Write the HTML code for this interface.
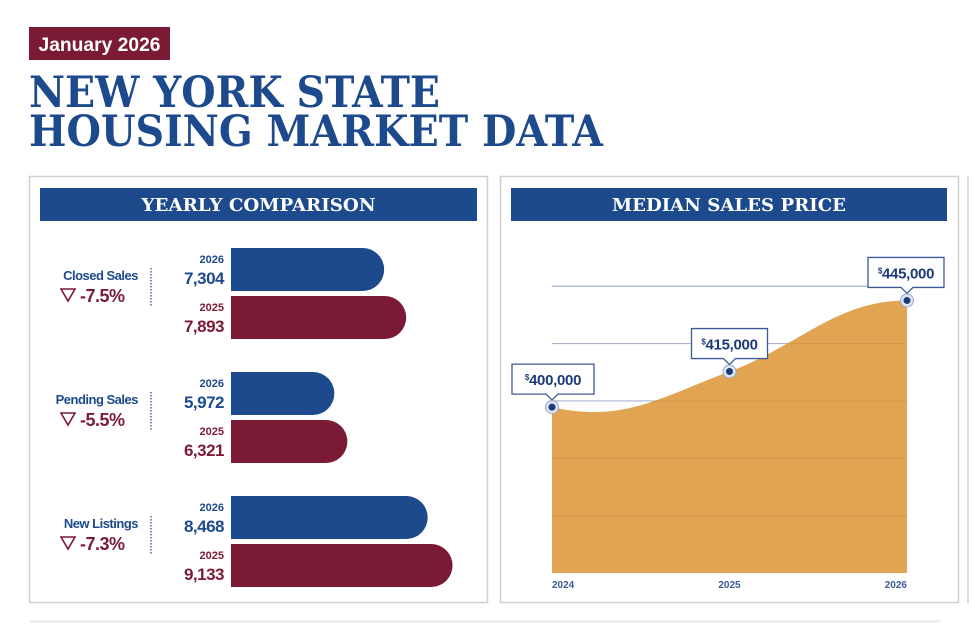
<!DOCTYPE html>
<html><head><meta charset="utf-8"><style>
html,body{margin:0;padding:0;background:#fff;width:972px;height:626px;overflow:hidden}
svg{display:block}
.serif{font-family:"DejaVu Serif","Liberation Serif",serif;font-weight:bold}
.sans{font-family:"Liberation Sans",sans-serif;font-weight:bold}
</style></head><body>
<svg id="root" width="972" height="626" viewBox="0 0 972 626" xmlns="http://www.w3.org/2000/svg">
  <rect x="29" y="27" width="141" height="33" fill="#7b1a35"/>
  <text x="99.5" y="51" text-anchor="middle" class="sans" font-size="19" fill="#fff" font-weight="normal" textLength="122" lengthAdjust="spacingAndGlyphs">January 2026</text>
  <text x="29" y="107" class="serif" font-size="43" fill="#1d4a8c" textLength="411" lengthAdjust="spacingAndGlyphs">NEW YORK STATE</text>
  <text x="29" y="146" class="serif" font-size="43" fill="#1d4a8c" textLength="574" lengthAdjust="spacingAndGlyphs">HOUSING MARKET DATA</text>

  <rect x="29.5" y="176.5" width="458" height="426" fill="#fff" stroke="#cfcfcf" stroke-width="1.5"/>
  <rect x="40" y="188" width="437" height="33" fill="#1d4a8c"/>
  <text x="258.5" y="211" text-anchor="middle" class="serif" font-size="18" fill="#fff" textLength="234" lengthAdjust="spacingAndGlyphs">YEARLY COMPARISON</text>
  <g id="bars"></g>

  <rect x="500.5" y="176.5" width="458" height="426" fill="#fff" stroke="#cfcfcf" stroke-width="1.5"/>
  <rect x="511" y="188" width="436" height="33" fill="#1d4a8c"/>
  <text x="729" y="211" text-anchor="middle" class="serif" font-size="18" fill="#fff" textLength="234" lengthAdjust="spacingAndGlyphs">MEDIAN SALES PRICE</text>
  <defs><clipPath id="areaClip"><path id="clipPath"/></clipPath></defs>
  <g id="area"></g>

  <line x1="968" y1="176" x2="968" y2="603" stroke="#cfcfcf" stroke-width="1.5"/>
  <rect x="30" y="620" width="910" height="3" fill="#eeeeee"/>
</svg>
<script>
const NS="http://www.w3.org/2000/svg";
// ---- bar data ----
const categories=["Closed Sales","Pending Sales","New Listings"];
const changes=["-7.5%","-5.5%","-7.3%"];
const values2026=[7304,5972,8468];
const values2025=[7893,6321,9133];
const years=["2026","2025"];
// ---- area data ----
const priceYears=["2024","2025","2026"];
const prices=[400000,415000,445000];
const priceLabels=["400,000","415,000","445,000"];

function mk(tag,attrs,parent){const e=document.createElementNS(NS,tag);for(const k in attrs)e.setAttribute(k,attrs[k]);parent.appendChild(e);return e;}

const bx0=231, bMin=3209, bK=0.0374;
const xb=v=>(v-bMin)*bK;
const barsG=document.getElementById('bars');
const groupTop=248, groupStep=124, bh=43;
categories.forEach((c,i)=>{
  const top=groupTop+i*groupStep;
  const colors=["#1d4a8c","#7b1a35"];
  [values2026[i],values2025[i]].forEach((v,j)=>{
    const y=top+j*48, w=xb(v), r=bh/2;
    const p=mk('path',{d:`M${bx0},${y}H${bx0+w-r}A${r},${r} 0 0 1 ${bx0+w-r},${y+bh}H${bx0}Z`,fill:colors[j]},barsG);
    
    
    const yt=mk('text',{x:224,y:y+15,'text-anchor':'end','font-family':'Liberation Sans, sans-serif','font-weight':'bold','font-size':11,fill:colors[j]},barsG);
    yt.textContent=years[j];
    
    
    const vt=mk('text',{x:224,y:y+36,'text-anchor':'end','font-family':'Liberation Sans, sans-serif','font-weight':'bold','font-size':17,'letter-spacing':'-0.5',fill:colors[j]},barsG);
    vt.textContent=v.toLocaleString('en-US');
    
    
  });
  const ct=mk('text',{x:138,y:top+32,'text-anchor':'end','font-family':'Liberation Sans, sans-serif','font-weight':'bold','font-size':13,'letter-spacing':'-0.5',fill:'#1d4a8c'},barsG);
  ct.textContent=c;
  
  
  const tri=mk('path',{d:`M61,${top+41}L75,${top+41}L68,${top+53}Z`,fill:'none',stroke:'#7b1a35','stroke-width':1.6},barsG);
  
  
  const pt=mk('text',{x:80,y:top+54,'font-family':'Liberation Sans, sans-serif','font-weight':'bold','font-size':18,'letter-spacing':'-0.5',fill:'#7b1a35'},barsG);
  pt.textContent=changes[i];
  
  
  const dl=mk('line',{x1:151,y1:top+20,x2:151,y2:top+58,stroke:'#1d4a8c','stroke-width':1.2,'stroke-dasharray':'1.5 1.5'},barsG);
  
  
});

const ag=document.getElementById('area');
const ax0=552, ax1=907, base=573, vMin=330000, ky=0.00237;
const xa=i=>ax0+i*(ax1-ax0)/(priceYears.length-1);
const ya=v=>base-(v-vMin)*ky;
const P=prices.map((v,i)=>[xa(i),ya(v)]);
let d=`M${P[0][0]},${P[0][1]}`;
for(let i=0;i<P.length-1;i++){
  const dx=P[i+1][0]-P[i][0];
  const sa=i===0?0.22:(P[i+1][1]-P[i-1][1])/(P[i+1][0]-P[i-1][0])*1.25;
  const sb=i+1===P.length-1?0:(P[i+2][1]-P[i][1])/(P[i+2][0]-P[i][0])*1.25;
  d+=` C${P[i][0]+dx*0.4},${P[i][1]+sa*dx*0.4} ${P[i+1][0]-dx*0.4},${P[i+1][1]-sb*dx*0.4} ${P[i+1][0]},${P[i+1][1]}`;
}
const full=d+` L${ax1},${base} L${ax0},${base} Z`;
document.getElementById('clipPath').setAttribute('d',full);
const gridVals=[354200,378400,402600,426800,451000];
gridVals.forEach(g=>{
  const l=mk('line',{x1:ax0,x2:ax1,y1:ya(g),y2:ya(g),stroke:'#aab4d0','stroke-width':1.2},ag);
  
  
});
const area=mk('path',{d:full,fill:'#e1a452'},ag);


const og=mk('g',{'clip-path':'url(#areaClip)'},ag);
gridVals.forEach(g=>{
  const l=mk('line',{x1:ax0,x2:ax1,y1:ya(g),y2:ya(g),stroke:'#cf8f42','stroke-width':1,'stroke-opacity':0.6},og);
  
  
});
priceYears.forEach((y,i)=>{
  const t=mk('text',{x:xa(i),y:588,'text-anchor':i===0?'start':(i===2?'end':'middle'),'font-family':'Liberation Sans, sans-serif','font-weight':'bold','font-size':10,fill:'#3d5a96'},ag);
  t.textContent=y;
  
  
});
P.forEach((p,i)=>{
  const bw=i===0?82:76, bx=i===0?512:p[0]-38+(i===2?-1:0), by=p[1]-43;
  const cx=p[0];
  const g=mk('g',{},ag);
  
  
  mk('path',{d:`M${bx},${by}H${bx+bw}V${by+30}H${cx+6}L${cx},${by+36}L${cx-6},${by+30}H${bx}Z`,fill:'#fff',stroke:'#3d5a96','stroke-width':1.3},g);
  const t=mk('text',{x:bx+bw/2,y:by+21,'text-anchor':'middle','font-family':'Liberation Sans, sans-serif','font-weight':'bold','font-size':15,'letter-spacing':'-0.3',fill:'#1d3a78'},g);
  const s=mk('tspan',{'font-size':8,dy:-5},t); s.textContent='$';
  const s2=mk('tspan',{dy:5},t); s2.textContent=priceLabels[i];
  const c1=mk('circle',{cx:cx,cy:p[1],r:6.5,fill:'#dfe4f0',stroke:'#9aa8c8','stroke-width':1},ag);
  
  
  mk('circle',{cx:cx,cy:p[1],r:3.5,fill:'#1d3a78'},ag);
});
</script>
</body></html>
